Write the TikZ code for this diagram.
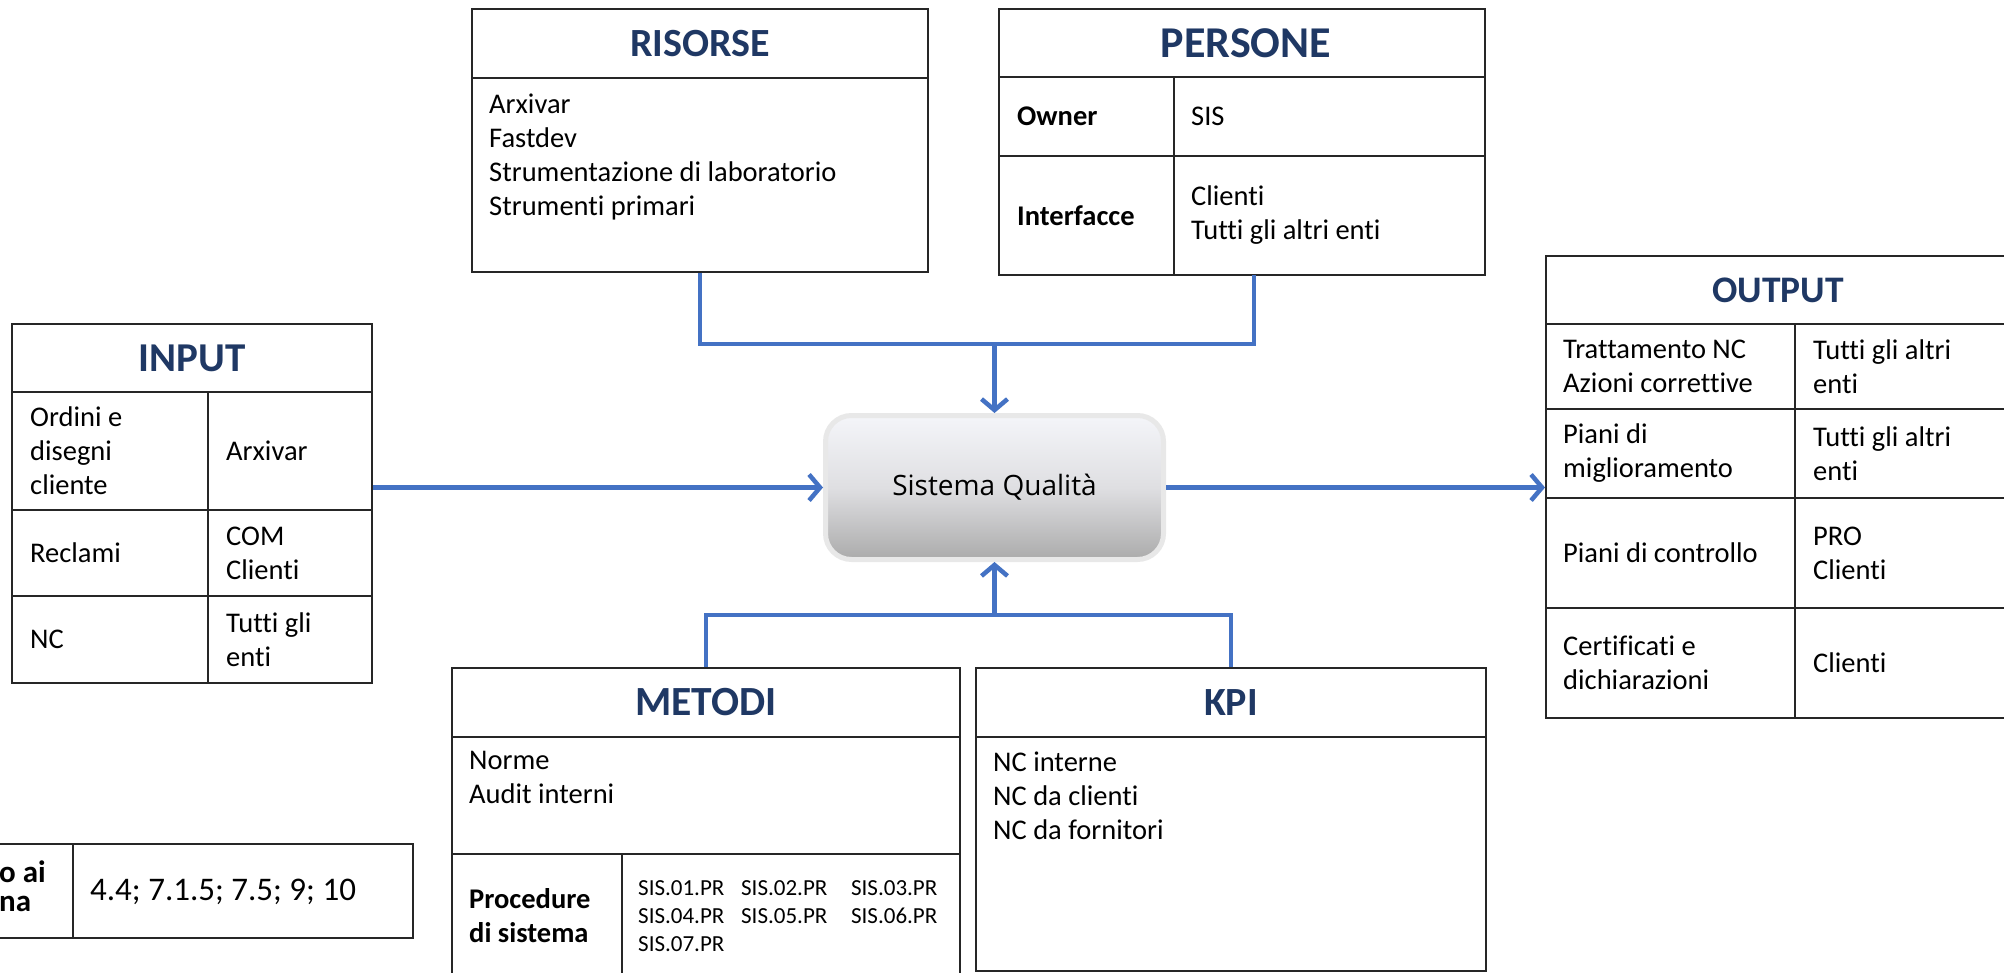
\documentclass[tikz,border=0pt]{standalone}
\usepackage{fontspec}
\setmainfont{Carlito}[Ligatures=NoCommon]
\newfontfamily\qualfont{Open Sans}
\usetikzlibrary{arrows.meta,positioning}
\definecolor{headblue}{HTML}{1F3864}
\definecolor{linkblue}{HTML}{4472C4}
\definecolor{gridgray}{HTML}{262626}
\definecolor{qualtop}{HTML}{F4F5F9}
\definecolor{qualmid}{HTML}{DFDFE2}
\definecolor{qualbot}{HTML}{ABABAB}
\tikzset{
  frame/.style={rectangle, draw=gridgray, line width=2pt, inner sep=0pt},
  grid/.style={draw=gridgray, line width=2pt},
  head/.style={font=\fontsize{40}{44}\selectfont\bfseries, text=headblue, inner sep=0pt},
  cell/.style={font=\fontsize{28.5}{34}\selectfont, align=left, inner sep=0pt, anchor=west},
  bcell/.style={cell, font=\fontsize{28.5}{34}\selectfont\bfseries},
  list/.style={cell, anchor=north west},
  link/.style={draw=linkblue, line width=4.5pt},
  qual/.style={rectangle, rounded corners=26pt, draw=black!9, line width=5pt,
    top color=qualtop, bottom color=qualbot, middle color=qualmid,
    minimum width=338pt, minimum height=144pt,
    font=\qualfont\fontsize{28}{32}\selectfont}
}
\begin{document}
\begin{tikzpicture}[x=1pt, y=-1pt, >={Straight Barb[length=11pt,width=26pt]}]
\useasboundingbox[fill=white] (0,0) rectangle (2004,973);

\node (sq) [qual] at (994.5,487.5) {Sistema Qualità};

\node (input) [frame, minimum width=360pt, minimum height=359pt] at (192,503.5) {};
\draw[grid] (12,392) -- (372,392) (12,510) -- (372,510) (12,596) -- (372,596)
            (208,392) -- (208,683);
\node (inputhead) [head, font=\fontsize{41}{46}\selectfont\bfseries] at (192,358) {INPUT};
\node (in1a) [cell] at (30,451) {Ordini e\\disegni\\cliente};
\node (in1b) [cell] at (226,451) {Arxivar};
\node (in2a) [cell] at (30,553) {Reclami};
\node (in2b) [cell] at (226,553) {COM\\Clienti};
\node (in3a) [cell] at (30,639.5) {NC};
\node (in3b) [cell] at (226,639.5) {Tutti gli\\enti};

\node (risorse) [frame, minimum width=456pt, minimum height=263pt] at (700,140.5) {};
\draw[grid] (472,78) -- (928,78);
\node (risorsehead) [head] at (700,43.5) {RISORSE};
\node (ris1) [list] at (489,94) {Arxivar\\Fastdev\\Strumentazione di laboratorio\\Strumenti primari};

\node (persone) [frame, minimum width=486pt, minimum height=266pt] at (1242,142) {};
\draw[grid] (999,77) -- (1485,77) (999,156) -- (1485,156) (1174,77) -- (1174,275);
\node (personehead) [head, font=\fontsize{44}{48}\selectfont\bfseries] at (1246,43) {PERSONE};
\node (pers1a) [bcell] at (1017,116.5) {Owner};
\node (pers1b) [cell] at (1191,116.5) {SIS};
\node (pers2a) [bcell] at (1017,215.5) {Interfacce};
\node (pers2b) [cell] at (1191,215.5) {Clienti\\Tutti gli altri enti};

\node (output) [frame, minimum width=464pt, minimum height=462pt] at (1778,487) {};
\draw[grid] (1546,324) -- (2010,324) (1546,409) -- (2010,409) (1546,498) -- (2010,498)
            (1546,608) -- (2010,608) (1795,324) -- (1795,718);
\node (outputhead) [head, font=\fontsize{37.5}{42}\selectfont\bfseries] at (1778,290) {OUTPUT};
\node (out1a) [cell] at (1563,366.5) {Trattamento NC\\Azioni correttive};
\node (out1b) [cell] at (1813,366.5) {Tutti gli altri\\enti};
\node (out2a) [cell] at (1563,453.5) {Piani di\\miglioramento};
\node (out2b) [cell] at (1813,453.5) {Tutti gli altri\\enti};
\node (out3a) [cell] at (1563,553) {Piani di controllo};
\node (out3b) [cell] at (1813,553) {PRO\\Clienti};
\node (out4a) [cell] at (1563,663) {Certificati e\\dichiarazioni};
\node (out4b) [cell] at (1813,663) {Clienti};

\node (metodi) [frame, minimum width=508pt, minimum height=322pt] at (706,829) {};
\draw[grid] (452,737) -- (960,737) (452,854) -- (960,854) (622,854) -- (622,990);
\node (metodihead) [head, font=\fontsize{41.5}{46}\selectfont\bfseries] at (706,702.5) {METODI};
\node (met1) [list] at (469,751.5) {Norme\\Audit interni};
\node (met2) [bcell] at (469,916) {Procedure\\di sistema};
\node (met3) [inner sep=0pt, anchor=base west, font=\fontsize{23}{28}\selectfont] at (638,895)
  {\begin{tabular}[t]{@{}p{103pt}@{}p{110pt}@{}l@{}}
   SIS.01.PR & SIS.02.PR & SIS.03.PR\\
   SIS.04.PR & SIS.05.PR & SIS.06.PR\\
   SIS.07.PR & & \\
   \end{tabular}};

\node (kpi) [frame, minimum width=510pt, minimum height=303pt] at (1231,819.5) {};
\draw[grid] (976,737) -- (1486,737);
\node (kpihead) [head] at (1231,702.5) {KPI};
\node (kpi1) [list] at (993,751.5) {NC interne\\NC da clienti\\NC da fornitori};

\node (norma) [frame, minimum width=453pt, minimum height=94pt] at (186.5,891) {};
\draw[grid] (73,844) -- (73,938);
\node (norma1) [cell, font=\fontsize{31}{29}\selectfont\bfseries] at (-1,886.5) {o ai\\na};
\node (norma2) [cell, font=\fontsize{33}{36}\selectfont] at (90,892) {4.4; 7.1.5; 7.5; 9; 10};

\coordinate (topjoin) at (994.5,344);
\coordinate (persfoot) at (1254,275);
\coordinate (botjoin) at (994.5,615);
\draw[link] (risorse.south) |- (topjoin) -| (persfoot);
\draw[link,->] (topjoin) -- (sq.north);
\draw[link] (metodi.north) |- (botjoin) -| (kpi.north);
\draw[link,->] (botjoin) -- (sq.south);
\draw[link,->] (input.east |- sq.west) -- (sq.west);
\draw[link,->] (sq.east) -- (output.west |- sq.east);
\end{tikzpicture}
\end{document}
